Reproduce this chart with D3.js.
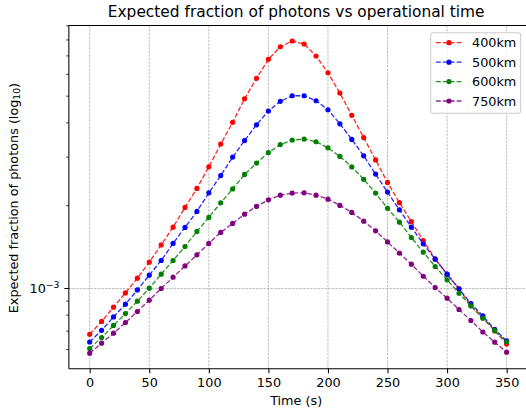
<!DOCTYPE html>
<html>
<head>
<meta charset="utf-8">
<script src="https://cdn.jsdelivr.net/npm/d3@7"></script>
<style>
  html, body { margin: 0; padding: 0; background: #fff; }
  svg { display: block; font-family: "DejaVu Sans", sans-serif; }
</style>
</head>
<body>
<svg id="chart" width="526" height="414"></svg>
<script>
// Sample times (s)
const times = [0,10,20,30,40,50,60,70,80,90,100,110,120,130,140,150,160,170,
               180,190,200,210,220,230,240,250,260,270,280,290,300,310,320,330,340,350];

// Expected fraction of photons, in units of 1e-3
const frac400 = [0.682,0.759,0.855,0.964,1.090,1.246,1.440,1.671,1.970,2.310,2.768,3.347,
                 4.015,4.892,5.802,6.803,7.558,7.930,7.733,6.994,6.081,5.132,4.257,3.535,
                 2.933,2.429,2.051,1.750,1.494,1.281,1.127,0.997,0.867,0.784,0.701,0.629];
const frac500 = [0.639,0.705,0.788,0.877,0.988,1.118,1.264,1.458,1.667,1.905,2.227,2.572,
                 3.002,3.447,3.934,4.413,4.786,5.017,5.017,4.810,4.461,3.967,3.481,3.035,
                 2.604,2.240,1.931,1.671,1.453,1.278,1.127,0.997,0.882,0.795,0.711,0.645];
const frac600 = [0.605,0.663,0.734,0.811,0.899,1.003,1.127,1.264,1.421,1.612,1.812,2.048,
                 2.301,2.597,2.855,3.117,3.333,3.461,3.490,3.413,3.245,3.020,2.766,2.493,
                 2.221,1.956,1.742,1.532,1.355,1.202,1.075,0.961,0.864,0.780,0.703,0.639];
const frac750 = [0.582,0.633,0.688,0.752,0.825,0.907,1.000,1.099,1.208,1.325,1.458,1.598,
                 1.723,1.863,1.987,2.100,2.184,2.221,2.227,2.184,2.112,2.004,1.890,1.757,
                 1.620,1.477,1.344,1.226,1.108,1.008,0.922,0.839,0.765,0.695,0.638,0.587];

const seriesNames = ["400km", "500km", "600km", "750km"];
const seriesColors = ["#ff0000", "#0000ff", "#008000", "#800080"];
const xTicks = [0, 50, 100, 150, 200, 250, 300, 350];
const yMajorTicks = [1e-3];
const yMajorLabels = [["10", "\u22123"]];

const series = [frac400, frac500, frac600, frac750].map((vals, i) => ({
  name: seriesNames[i],
  color: seriesColors[i],
  points: vals.map((v, j) => ({ t: times[j], v: v * 1e-3 }))
}));

const svg = d3.select("#chart");
const axLeft = 68.85, axRight = 527.5, axTop = 25.4, axBottom = 368.8;
const labelSize = 12.8, titleSize = 15.4;

// x: linear with 5% padding on each side
const tMin = d3.min(times), tMax = d3.max(times);
const tPad = (tMax - tMin) * 0.05;
const x = d3.scaleLinear().domain([tMin - tPad, tMax + tPad]).range([axLeft, axRight]);

// y: log scale with 5% padding in log space
const allV = series.flatMap(s => s.points.map(p => p.v));
const lMin = Math.log10(d3.min(allV)), lMax = Math.log10(d3.max(allV));
const lPad = (lMax - lMin) * 0.05;
const y = d3.scaleLog().domain([10 ** (lMin - lPad), 10 ** (lMax + lPad)]).range([axBottom, axTop]);

const plot = svg.append("g");

// grid
const grid = plot.append("g").attr("stroke", "#a0a0a0").attr("stroke-width", 0.7)
  .attr("stroke-dasharray", "2.5,1.1");
grid.selectAll("line.vx").data(xTicks).join("line")
  .attr("x1", d => x(d)).attr("x2", d => x(d)).attr("y1", axTop).attr("y2", axBottom);
grid.selectAll("line.hy").data(yMajorTicks).join("line")
  .attr("x1", axLeft).attr("x2", axRight).attr("y1", d => y(d)).attr("y2", d => y(d));

// series lines and markers
const line = d3.line().x(d => x(d.t)).y(d => y(d.v));
series.forEach(s => {
  const g = plot.append("g");
  g.append("path").attr("d", line(s.points))
    .attr("fill", "none").attr("stroke", s.color).attr("stroke-width", 1.3)
    .attr("stroke-dasharray", "4.8,2.1").attr("stroke-opacity", 0.85);
  g.selectAll("circle").data(s.points).join("circle")
    .attr("cx", d => x(d.t)).attr("cy", d => y(d.v)).attr("r", 2)
    .attr("fill", s.color).attr("stroke", s.color).attr("stroke-width", 1.2);
});

// spines
const spines = svg.append("g").attr("stroke", "#000").attr("stroke-width", 1.05);
spines.append("line").attr("x1", axLeft).attr("x2", axLeft).attr("y1", axTop).attr("y2", axBottom);
spines.append("line").attr("x1", axLeft).attr("x2", axRight).attr("y1", axBottom).attr("y2", axBottom);
spines.append("line").attr("x1", axLeft).attr("x2", axRight).attr("y1", axTop).attr("y2", axTop);
spines.append("line").attr("x1", axRight).attr("x2", axRight).attr("y1", axTop).attr("y2", axBottom);

// x axis
const xAxis = svg.append("g").attr("transform", `translate(0,${axBottom})`)
  .call(d3.axisBottom(x).tickValues(xTicks).tickSize(4.5).tickPadding(4.3).tickFormat(d3.format("d")));
xAxis.select(".domain").remove();
xAxis.selectAll(".tick line").attr("stroke-width", 1.05);
xAxis.selectAll(".tick text").attr("font-size", labelSize).attr("fill", "#000")
  .attr("font-family", "DejaVu Sans");

// y axis: minor ticks
const yMinor = y.ticks().filter(v => !yMajorTicks.some(m => Math.abs(m - v) < 1e-12));
svg.append("g").selectAll("line").data(yMinor).join("line")
  .attr("x1", axLeft - 2.6).attr("x2", axLeft).attr("y1", d => y(d)).attr("y2", d => y(d))
  .attr("stroke", "#000").attr("stroke-width", 0.8);
// y axis: major ticks and labels
svg.append("g").selectAll("line").data(yMajorTicks).join("line")
  .attr("x1", axLeft - 4.5).attr("x2", axLeft).attr("y1", d => y(d)).attr("y2", d => y(d))
  .attr("stroke", "#000").attr("stroke-width", 1.05);
yMajorTicks.forEach((v, i) => {
  const t = svg.append("text").attr("x", axLeft - 9.5).attr("y", y(v) + 5)
    .attr("text-anchor", "end").attr("font-size", labelSize).attr("fill", "#000");
  t.append("tspan").text(yMajorLabels[i][0]);
  t.append("tspan").attr("font-size", 9.2).attr("dy", -5.6).text(yMajorLabels[i][1]);
});

// title and axis labels
svg.append("text").attr("x", (axLeft + axRight) / 2 - 2).attr("y", 17)
  .attr("text-anchor", "middle").attr("font-size", titleSize).attr("fill", "#000")
  .text("Expected fraction of photons vs operational time");
svg.append("text").attr("x", (axLeft + axRight) / 2 - 2).attr("y", 405)
  .attr("text-anchor", "middle").attr("font-size", labelSize).attr("fill", "#000")
  .text("Time (s)");
const yl = svg.append("text").attr("transform", `translate(17.5,${(axTop + axBottom) / 2 + 1}) rotate(-90)`)
  .attr("text-anchor", "middle").attr("font-size", labelSize).attr("fill", "#000");
yl.append("tspan").text("Expected fraction of photons (log");
yl.append("tspan").attr("font-size", 9.2).attr("dy", 2.4).text("10");
yl.append("tspan").attr("dy", -2.4).text(")");

// legend
const lg = svg.append("g");
lg.append("rect").attr("x", 430.7).attr("y", 32.7).attr("width", 90).attr("height", 80.6)
  .attr("rx", 2.7).attr("fill", "#fff").attr("fill-opacity", 0.8)
  .attr("stroke", "#cccccc").attr("stroke-width", 1.05);
const rowY = d3.scalePoint().domain(seriesNames).range([42.7, 101]);
series.forEach(s => {
  const cy = rowY(s.name);
  lg.append("line").attr("x1", 436).attr("x2", 462).attr("y1", cy).attr("y2", cy)
    .attr("stroke", s.color).attr("stroke-width", 1.3).attr("stroke-dasharray", "4.8,2.1")
    .attr("stroke-opacity", 0.85);
  lg.append("circle").attr("cx", 449).attr("cy", cy).attr("r", 2)
    .attr("fill", s.color).attr("stroke", s.color).attr("stroke-width", 1.2);
  lg.append("text").attr("x", 472).attr("y", cy + 4.6).attr("font-size", labelSize)
    .attr("fill", "#000").text(s.name);
});
</script>
</body>
</html>
